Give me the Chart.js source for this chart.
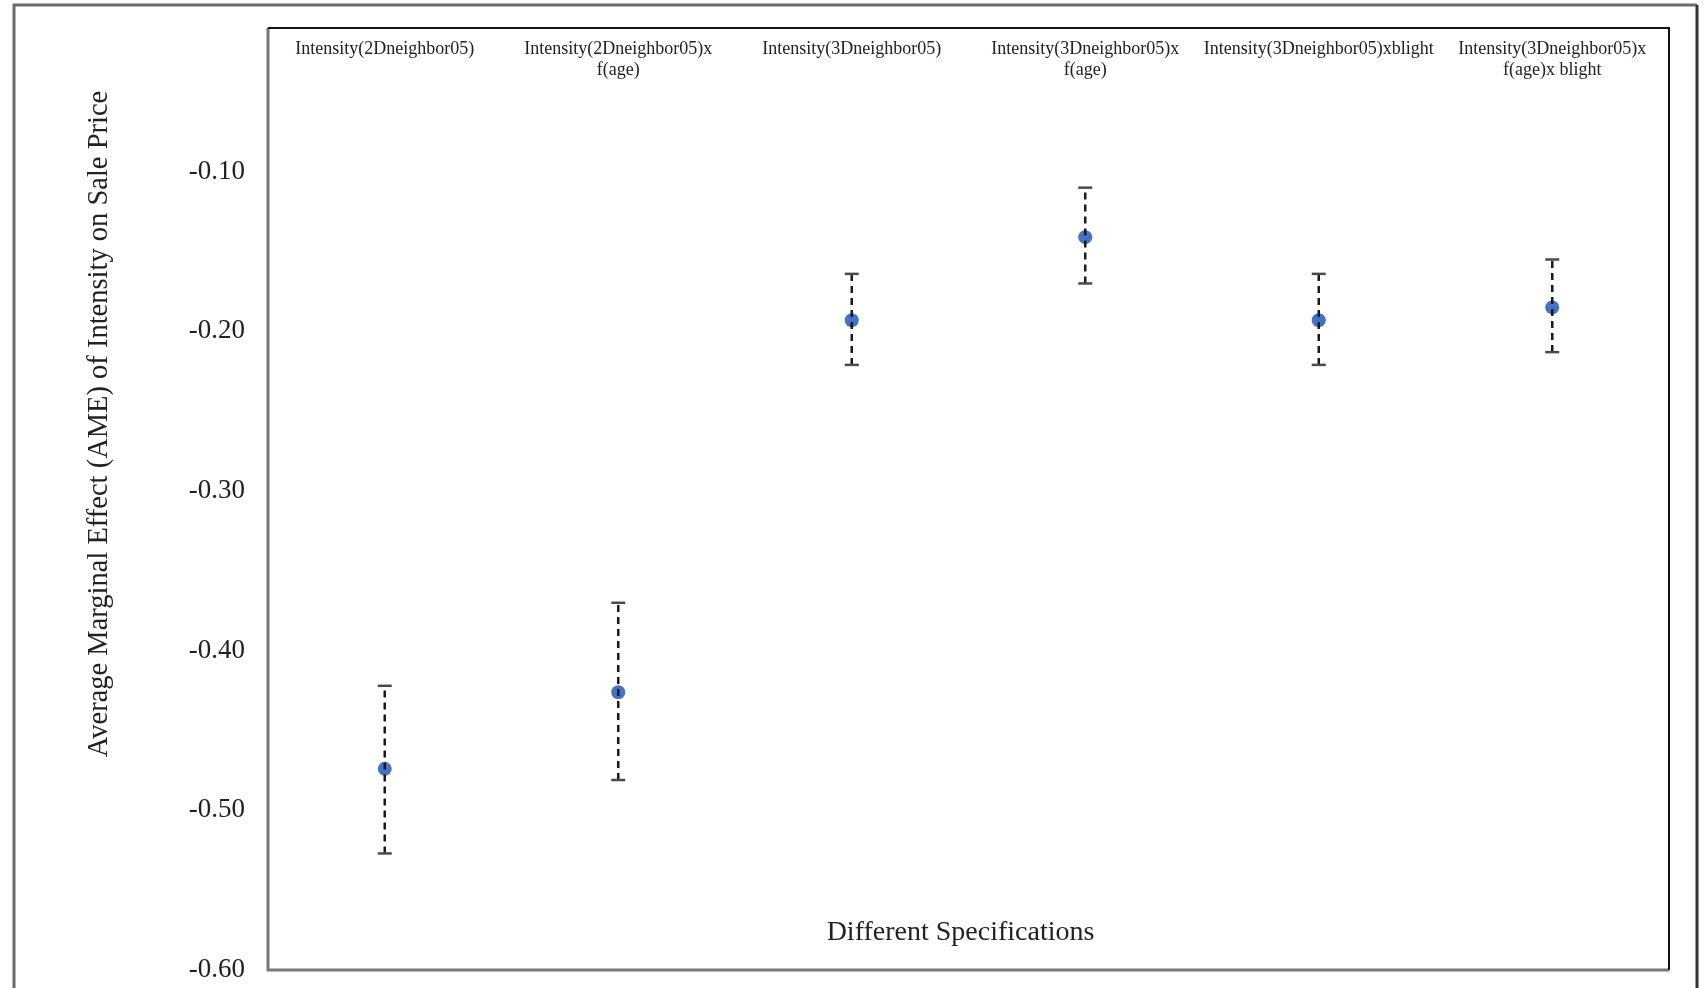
<!DOCTYPE html>
<html>
<head>
<meta charset="utf-8">
<title>AME by specification</title>
<script src="https://cdn.jsdelivr.net/npm/chart.js@4.4.1/dist/chart.umd.min.js"></script>
<style>
    html, body { margin: 0; padding: 0; background: #fff; }
    #wrap { width: 1706px; height: 988px; }
</style>
</head>
<body>
<div id="wrap"><canvas id="ameChart" width="1706" height="988"></canvas></div>
<script>
// data
const categories = [
    ['Intensity(2Dneighbor05)'],
    ['Intensity(2Dneighbor05)x', 'f(age)'],
    ['Intensity(3Dneighbor05)'],
    ['Intensity(3Dneighbor05)x', 'f(age)'],
    ['Intensity(3Dneighbor05)xblight'],
    ['Intensity(3Dneighbor05)x', 'f(age)x blight']
];
const ame   = [-0.474, -0.426, -0.193, -0.141, -0.193, -0.185];
const upper = [-0.422, -0.370, -0.164, -0.110, -0.164, -0.155];
const lower = [-0.527, -0.481, -0.221, -0.170, -0.221, -0.213];
const yTicks = [-0.60, -0.50, -0.40, -0.30, -0.20, -0.10];

const yTitle = 'Average Marginal Effect (AME) of Intensity on Sale Price';
const xTitle = 'Different Specifications';

const SERIF = '"Liberation Serif", "Times New Roman", serif';

// points + error bars (null y breaks the line between categories)
const pointData = ame.map((v, i) => ({ x: i, y: v }));
const errData = [];
categories.forEach((c, i) => {
    errData.push({ x: i, y: lower[i] }, { x: i, y: upper[i] }, { x: i, y: null });
});

// frame: outer box + plot box like the original figure
const framePlugin = {
    id: 'frame',
    beforeDraw(chart) {
        const ctx = chart.ctx;
        ctx.save();
        ctx.fillStyle = '#fff';
        ctx.fillRect(0, 0, chart.width, chart.height);
        // outer box
        ctx.strokeStyle = '#6a6a6a';
        ctx.lineWidth = 3;
        ctx.beginPath();
        ctx.moveTo(14, chart.height + 10);
        ctx.lineTo(14, 5);
        ctx.lineTo(1697, 5);
        ctx.stroke();
        ctx.strokeStyle = '#333';
        ctx.beginPath();
        ctx.moveTo(1697, 5);
        ctx.lineTo(1697, chart.height + 10);
        ctx.stroke();
        ctx.restore();
    },
    beforeDatasetsDraw(chart) {
        const { ctx, chartArea: a } = chart;
        ctx.save();
        // left + bottom in grey, top + right in black
        ctx.strokeStyle = '#777';
        ctx.lineWidth = 3;
        ctx.beginPath();
        ctx.moveTo(a.left, a.top);
        ctx.lineTo(a.left, a.bottom);
        ctx.lineTo(a.right, a.bottom);
        ctx.stroke();
        ctx.strokeStyle = '#111';
        ctx.lineWidth = 2;
        ctx.beginPath();
        ctx.moveTo(a.left, a.top);
        ctx.lineTo(a.right, a.top);
        ctx.lineTo(a.right, a.bottom);
        ctx.stroke();
        ctx.restore();
    }
};

// category names sit inside the top of the plot, titles are placed by hand
const textPlugin = {
    id: 'texts',
    afterDraw(chart) {
        const { ctx, chartArea: a, scales } = chart;
        ctx.save();
        ctx.fillStyle = '#222';
        ctx.textAlign = 'center';
        ctx.textBaseline = 'middle';
        ctx.font = '18px ' + SERIF;
        categories.forEach((lines, i) => {
            const x = scales.x.getPixelForValue(i);
            lines.forEach((t, j) => ctx.fillText(t, x, a.top + 21 + j * 21));
        });

        ctx.font = '28px ' + SERIF;
        ctx.fillText(xTitle, (a.left + a.right) / 2 - 8, a.bottom - 37);

        ctx.translate(a.left - 168, (a.top + a.bottom) / 2 - 75);
        ctx.rotate(-Math.PI / 2);
        ctx.font = '28.5px ' + SERIF;
        ctx.fillText(yTitle, 0, 0);
        ctx.restore();
    }
};

const ctx = document.getElementById('ameChart').getContext('2d');
new Chart(ctx, {
    type: 'scatter',
    data: {
        datasets: [
            {
                label: 'CI',
                data: errData,
                showLine: true,
                spanGaps: false,
                borderColor: '#1a1a1a',
                borderWidth: 2.5,
                borderDash: [7, 5],
                pointStyle: 'line',
                pointRadius: 7,
                pointBorderWidth: 2.5,
                pointBorderColor: '#4a4a4a',
                order: 0
            },
            {
                label: 'AME',
                data: pointData,
                pointRadius: 7,
                pointBackgroundColor: '#4472C4',
                pointBorderColor: '#4472C4',
                pointBorderWidth: 0,
                order: 1
            }
        ]
    },
    options: {
        responsive: false,
        animation: false,
        events: [],
        layout: { padding: { top: 28, right: 37, bottom: 18, left: 150 } },
        plugins: {
            legend: { display: false },
            tooltip: { enabled: false }
        },
        scales: {
            x: {
                type: 'linear',
                display: false,
                min: -0.5,
                max: categories.length - 0.5
            },
            y: {
                min: -0.6,
                max: -0.01,
                afterBuildTicks: s => { s.ticks = yTicks.map(v => ({ value: v })); },
                afterFit: s => {
                    s.width = 118;
                    s.paddingTop = 0;
                    s.paddingBottom = 0;
                },
                grid: { display: false, drawTicks: false },
                border: { display: false },
                ticks: {
                    padding: 23,
                    color: '#222',
                    font: { family: SERIF, size: 27 },
                    callback: v => v.toFixed(2)
                }
            }
        }
    },
    plugins: [framePlugin, textPlugin]
});
</script>
</body>
</html>
